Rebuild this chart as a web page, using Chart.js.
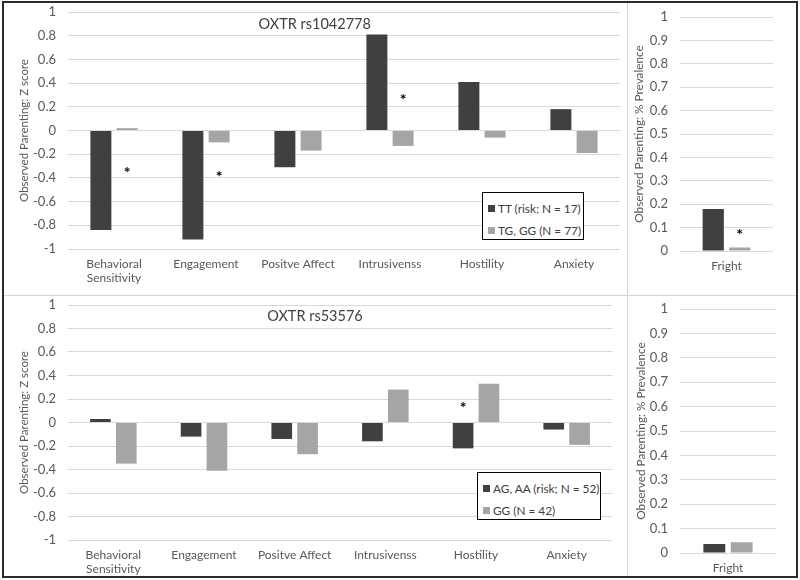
<!DOCTYPE html>
<html>
<head>
<meta charset="utf-8">
<script src="https://cdn.jsdelivr.net/npm/chart.js@4/dist/chart.umd.min.js"></script>
<style>
  html, body { margin: 0; padding: 0; background: #fff; }
  #wrap { position: relative; width: 800px; height: 580px; overflow: hidden; font-family: Lato, "Open Sans", sans-serif; }
  .panel { position: absolute; }
  .frame { position: absolute; left: 2px; top: 1px; width: 796px; height: 577px; box-sizing: border-box; border: 2px solid #2b2b2b; pointer-events: none; z-index: 5; }
  .vdiv { position: absolute; left: 627px; top: 2px; width: 1px; height: 575px; background: #d4d4d4; z-index: 4; }
  .hdiv { position: absolute; left: 3px; top: 295px; width: 794px; height: 1px; background: #d4d4d4; z-index: 4; }
  .legend { position: absolute; background: #fff; border: 1.5px solid #000; box-sizing: border-box; z-index: 3; font-size: 11.8px; color: #404040; padding: 4px 0 0 5px; }
  .legend .item { display: flex; align-items: center; height: 22px; white-space: nowrap; }
  .legend .sw { flex: 0 0 7px; width: 7px; height: 7px; margin-right: 3px; }
</style>
</head>
<body>
<div id="wrap">
  <div class="panel" style="left:0;top:0;width:627px;height:295px"><canvas id="c1"></canvas></div>
  <div class="panel" style="left:627px;top:0;width:170px;height:295px"><canvas id="c2"></canvas></div>
  <div class="panel" style="left:0;top:295px;width:627px;height:285px"><canvas id="c3"></canvas></div>
  <div class="panel" style="left:627px;top:295px;width:170px;height:285px"><canvas id="c4"></canvas></div>
  <div class="legend" id="leg1" style="left:482px;top:192px;width:102px;height:48px"></div>
  <div class="legend" id="leg3" style="left:477px;top:472px;width:124px;height:48px"></div>
  <div class="vdiv"></div>
  <div class="hdiv"></div>
  <div class="frame"></div>
</div>
<script>
// ---------- data ----------
const categories = [['Behavioral', 'Sensitivity'], 'Engagement', 'Positve Affect', 'Intrusivenss', 'Hostility', 'Anxiety'];
const frightCategory = ['Fright'];

const titleTop = 'OXTR rs1042778';
const titleBottom = 'OXTR rs53576';

const labelTopRisk = 'TT (risk; N = 17)';
const labelTopOther = 'TG, GG (N = 77)';
const labelBottomRisk = 'AG, AA (risk; N = 52)';
const labelBottomOther = 'GG (N = 42)';

const rs1042778Risk  = [-0.84, -0.92, -0.31, 0.81, 0.41, 0.18];
const rs1042778Other = [0.02, -0.10, -0.17, -0.13, -0.06, -0.19];
const rs1042778FrightRisk  = [0.18];
const rs1042778FrightOther = [0.015];

const rs53576Risk  = [0.03, -0.12, -0.14, -0.16, -0.22, -0.06];
const rs53576Other = [-0.35, -0.41, -0.27, 0.28, 0.33, -0.19];
const rs53576FrightRisk  = [0.037];
const rs53576FrightOther = [0.044];

// significance markers: [category index, series index, value]
const starsTopZ = [[0, 1, -0.32], [1, 1, -0.35], [3, 1, 0.30]];
const starsTopFright = [[0, 1, 0.09]];
const starsBottomZ = [[4, 0, 0.165]];
const starsBottomFright = [];

const zTicksLabel = 'Observed Parenting: Z score';
const pTicksLabel = 'Observed Parenting: % Prevalence';

// ---------- styling ----------
const DARK = '#404040';
const LIGHT = '#a5a5a5';
const GRID = '#d9d9d9';
const TICK = '#595959';
Chart.defaults.font.family = 'Lato, "Open Sans", sans-serif';
Chart.defaults.color = TICK;

const starPlugin = {
  id: 'stars',
  afterDatasetsDraw(chart, args, opts) {
    const { ctx } = chart;
    const y = chart.scales.y;
    ctx.save();
    ctx.fillStyle = '#000';
    ctx.font = 'bold 16px Lato, sans-serif';
    ctx.textAlign = 'center';
    ctx.textBaseline = 'alphabetic';
    (opts.marks || []).forEach(([idx, ds, val]) => {
      const bar = chart.getDatasetMeta(ds).data[idx];
      ctx.fillText('*', bar.x, y.getPixelForValue(val) + 10);
    });
    ctx.restore();
  }
};

const innerTitle = {
  id: 'innerTitle',
  afterDraw(chart, args, opts) {
    if (!opts.text) return;
    const { ctx, chartArea } = chart;
    ctx.save();
    ctx.fillStyle = '#404040';
    ctx.font = '14.5px Lato, sans-serif';
    ctx.textAlign = 'center';
    ctx.textBaseline = 'middle';
    ctx.fillText(opts.text, chartArea.left + chartArea.width * opts.xFrac, chartArea.top + opts.dy);
    ctx.restore();
  }
};

function makeChart(id, o) {
  return new Chart(document.getElementById(id), {
    type: 'bar',
    data: {
      labels: o.labels,
      datasets: [
        { label: o.names[0], data: o.a, backgroundColor: DARK, borderWidth: 0 },
        { label: o.names[1], data: o.b, backgroundColor: LIGHT, borderWidth: 0 }
      ]
    },
    options: {
      responsive: true,
      maintainAspectRatio: false,
      animation: false,
      datasets: { bar: { categoryPercentage: 0.57, barPercentage: 0.8 } },
      layout: { padding: { left: 0, top: o.padTop, right: o.padRight, bottom: 0 } },
      plugins: {
        legend: { display: false },
        tooltip: { enabled: false },
        stars: { marks: o.stars },
        innerTitle: { text: o.title, xFrac: o.titleX, dy: o.titleDy }
      },
      scales: {
        x: {
          grid: { display: false, drawTicks: false },
          border: { display: false },
          ticks: { padding: 8, font: { size: 12 }, color: TICK, maxRotation: 0, autoSkip: false },
          afterFit: s => { s.height = o.xHeight; s.paddingLeft = 0; s.paddingRight = 0; }
        },
        y: {
          min: o.min, max: o.max,
          grid: { color: GRID, lineWidth: 1, drawTicks: false },
          border: { display: false },
          ticks: {
            stepSize: o.step, padding: 12, font: { size: 13 }, color: TICK,
            callback: v => String(Math.round(v * 10) / 10)
          },
          title: { display: true, text: o.yTitle, color: TICK, font: { size: o.yTitleSize }, padding: { top: o.yTitlePad, bottom: 0 } },
          afterFit: s => { s.width = o.yWidth; s.paddingTop = 0; s.paddingBottom = 0; }
        }
      }
    },
    plugins: [starPlugin, innerTitle]
  });
}

const c1 = makeChart('c1', {
  labels: categories, names: [labelTopRisk, labelTopOther],
  a: rs1042778Risk, b: rs1042778Other, stars: starsTopZ,
  min: -1, max: 1, step: 0.2, yTitle: zTicksLabel, yTitlePad: 17, yTitleSize: 11.5,
  yWidth: 68, padTop: 12, padRight: 7, xHeight: 46,
  title: titleTop, titleX: 0.447, titleDy: 12
});
makeChart('c2', {
  labels: frightCategory, names: [labelTopRisk, labelTopOther],
  a: rs1042778FrightRisk, b: rs1042778FrightOther, stars: starsTopFright,
  min: 0, max: 1, step: 0.1, yTitle: pTicksLabel, yTitlePad: 5, yTitleSize: 11.8,
  yWidth: 53, padTop: 17, padRight: 24, xHeight: 44
});
const c3 = makeChart('c3', {
  labels: categories, names: [labelBottomRisk, labelBottomOther],
  a: rs53576Risk, b: rs53576Other, stars: starsBottomZ,
  min: -1, max: 1, step: 0.2, yTitle: zTicksLabel, yTitlePad: 17, yTitleSize: 11.5,
  yWidth: 68, padTop: 10, padRight: 15, xHeight: 40,
  title: titleBottom, titleX: 0.454, titleDy: 11
});
makeChart('c4', {
  labels: frightCategory, names: [labelBottomRisk, labelBottomOther],
  a: rs53576FrightRisk, b: rs53576FrightOther, stars: starsBottomFright,
  min: 0, max: 1, step: 0.1, yTitle: pTicksLabel, yTitlePad: 7, yTitleSize: 11.8,
  yWidth: 53, padTop: 14, padRight: 21, xHeight: 27
});

function buildLegend(elId, chart) {
  const el = document.getElementById(elId);
  chart.data.datasets.forEach(ds => {
    const item = document.createElement('div');
    item.className = 'item';
    const sw = document.createElement('span');
    sw.className = 'sw';
    sw.style.background = ds.backgroundColor;
    const tx = document.createElement('span');
    tx.textContent = ds.label;
    item.appendChild(sw);
    item.appendChild(tx);
    el.appendChild(item);
  });
}
buildLegend('leg1', c1);
buildLegend('leg3', c3);
</script>
</body>
</html>
